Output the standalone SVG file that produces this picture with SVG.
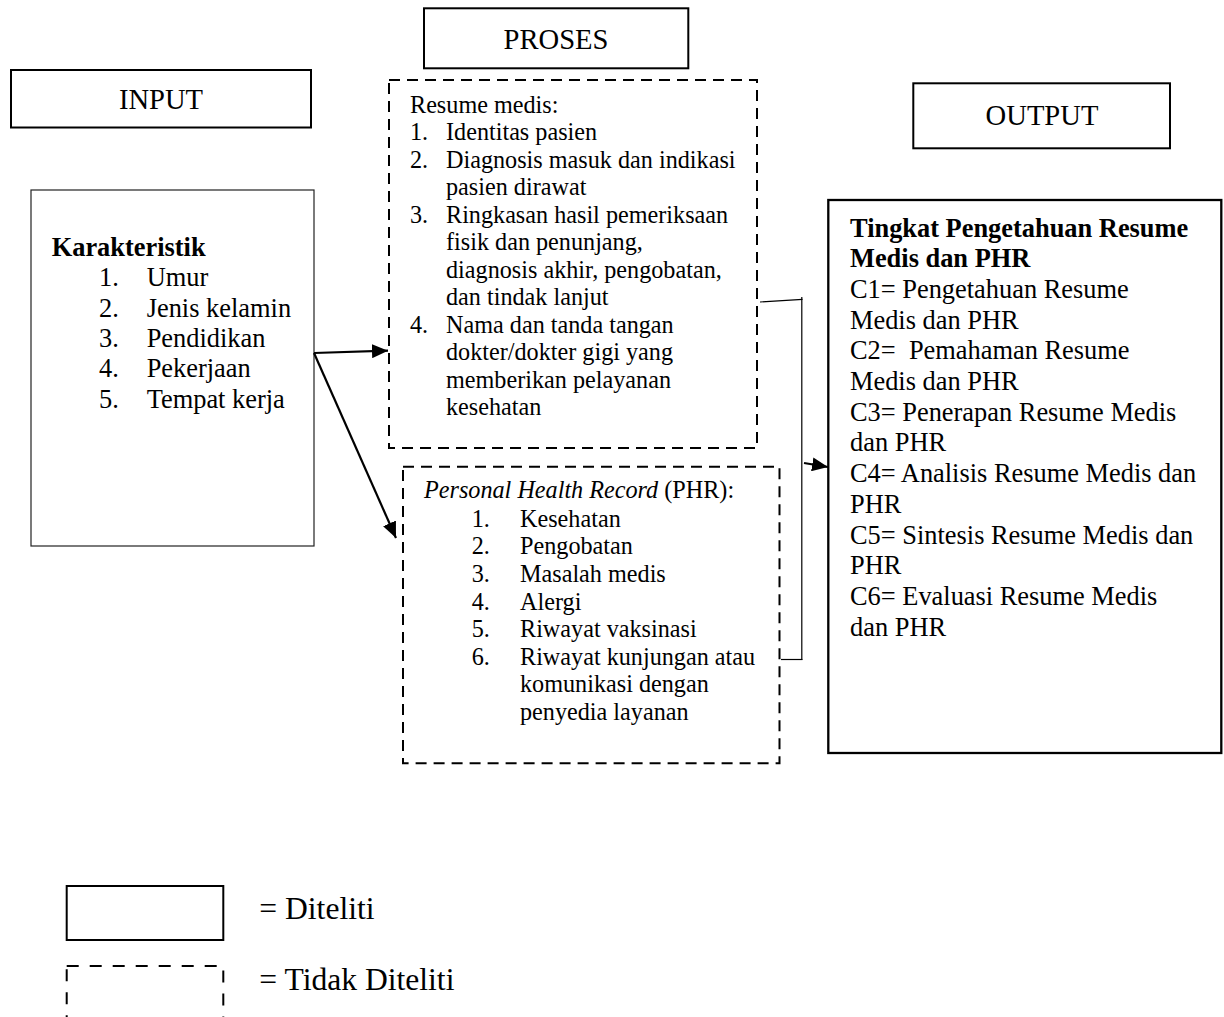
<svg xmlns="http://www.w3.org/2000/svg" width="1224" height="1017" viewBox="0 0 1224 1017">
<style>
text{font-family:"Liberation Serif","Times New Roman",serif;fill:#000}
.hdr{font-size:28.6px;text-anchor:middle}
.t11{font-size:24.2px}
.t12{font-size:26.4px}
.b{font-weight:bold}
.solid{fill:#fff;stroke:#000;stroke-width:2}
.dash{fill:none;stroke:#000;stroke-width:2;stroke-dasharray:11 7}
.conn{fill:none;stroke:#000;stroke-width:2.2}
.thin{fill:none;stroke:#000;stroke-width:1.2}
</style>
<defs>
<marker id="ah" markerUnits="userSpaceOnUse" markerWidth="16" markerHeight="14" refX="16" refY="7" orient="auto">
<path d="M0,0 L16,7 L0,14 z" fill="#000"/>
</marker>
</defs>
<rect width="1224" height="1017" fill="#fff"/>

<g id="input-header">
<rect class="solid" x="11" y="70" width="300" height="57.5"/>
<text class="hdr" x="161" y="109.3">INPUT</text>
</g>

<g id="proses-header">
<rect class="solid" x="424" y="8.3" width="264.3" height="60"/>
<text class="hdr" x="556" y="49.3">PROSES</text>
</g>

<g id="output-header">
<rect class="solid" x="913.3" y="83.3" width="256.7" height="65"/>
<text class="hdr" x="1042" y="125">OUTPUT</text>
</g>

<g id="karakteristik">
<rect x="31" y="190" width="283" height="356" fill="#fff" stroke="#222" stroke-width="1.2"/>
<text class="t12 b" x="51.7" y="256">Karakteristik</text>
<text class="t12" x="99" y="286">1.</text><text class="t12" x="146.7" y="286">Umur</text>
<text class="t12" x="99" y="316.5">2.</text><text class="t12" x="146.7" y="316.5">Jenis kelamin</text>
<text class="t12" x="99" y="347">3.</text><text class="t12" x="146.7" y="347">Pendidikan</text>
<text class="t12" x="99" y="377.4">4.</text><text class="t12" x="146.7" y="377.4">Pekerjaan</text>
<text class="t12" x="99" y="408">5.</text><text class="t12" x="146.7" y="408">Tempat kerja</text>
</g>

<g id="resume-medis">
<rect class="dash" x="389" y="80" width="368" height="368"/>
<text class="t11" x="410" y="112.7">Resume medis:</text>
<text class="t11" x="410" y="140.2">1.</text><text class="t11" x="446" y="140.2">Identitas pasien</text>
<text class="t11" x="410" y="167.7">2.</text><text class="t11" x="446" y="167.7">Diagnosis masuk dan indikasi</text>
<text class="t11" x="446" y="195.2">pasien dirawat</text>
<text class="t11" x="410" y="222.7">3.</text><text class="t11" x="446" y="222.7">Ringkasan hasil pemeriksaan</text>
<text class="t11" x="446" y="250.2">fisik dan penunjang,</text>
<text class="t11" x="446" y="277.7">diagnosis akhir, pengobatan,</text>
<text class="t11" x="446" y="305.2">dan tindak lanjut</text>
<text class="t11" x="410" y="332.7">4.</text><text class="t11" x="446" y="332.7">Nama dan tanda tangan</text>
<text class="t11" x="446" y="360.2">dokter/dokter gigi yang</text>
<text class="t11" x="446" y="387.7">memberikan pelayanan</text>
<text class="t11" x="446" y="415.2">kesehatan</text>
</g>

<g id="phr">
<rect class="dash" x="403" y="466.7" width="376.5" height="296.6"/>
<text class="t11" x="424" y="498.3"><tspan font-style="italic">Personal Health Record</tspan> (PHR):</text>
<text class="t11" x="471.7" y="526.7">1.</text><text class="t11" x="520" y="526.7">Kesehatan</text>
<text class="t11" x="471.7" y="554.3">2.</text><text class="t11" x="520" y="554.3">Pengobatan</text>
<text class="t11" x="471.7" y="581.9">3.</text><text class="t11" x="520" y="581.9">Masalah medis</text>
<text class="t11" x="471.7" y="609.5">4.</text><text class="t11" x="520" y="609.5">Alergi</text>
<text class="t11" x="471.7" y="637.1">5.</text><text class="t11" x="520" y="637.1">Riwayat vaksinasi</text>
<text class="t11" x="471.7" y="664.7">6.</text><text class="t11" x="520" y="664.7">Riwayat kunjungan atau</text>
<text class="t11" x="520" y="692.3">komunikasi dengan</text>
<text class="t11" x="520" y="719.9">penyedia layanan</text>
</g>

<g id="output">
<rect x="828.3" y="200" width="393" height="553" fill="#fff" stroke="#000" stroke-width="2.3"/>
<text class="t12 b" x="850" y="236.5">Tingkat Pengetahuan Resume</text>
<text class="t12 b" x="850" y="267.2">Medis dan PHR</text>
<text class="t12" x="850" y="297.9">C1= Pengetahuan Resume</text>
<text class="t12" x="850" y="328.6">Medis dan PHR</text>
<text class="t12" x="850" y="359.3" style="white-space:pre">C2=  Pemahaman Resume</text>
<text class="t12" x="850" y="390">Medis dan PHR</text>
<text class="t12" x="850" y="420.7">C3= Penerapan Resume Medis</text>
<text class="t12" x="850" y="451.4">dan PHR</text>
<text class="t12" x="850" y="482.1">C4= Analisis Resume Medis dan</text>
<text class="t12" x="850" y="512.8">PHR</text>
<text class="t12" x="850" y="543.5">C5= Sintesis Resume Medis dan</text>
<text class="t12" x="850" y="574.2">PHR</text>
<text class="t12" x="850" y="604.9">C6= Evaluasi Resume Medis</text>
<text class="t12" x="850" y="635.6">dan PHR</text>
</g>

<g id="connectors">
<line class="conn" x1="314" y1="353" x2="388" y2="350.7" marker-end="url(#ah)"/>
<line class="conn" x1="314" y1="353" x2="396" y2="538" marker-end="url(#ah)"/>
<line class="thin" x1="760" y1="302" x2="802.5" y2="299.3"/>
<line class="thin" x1="801.8" y1="297" x2="801.8" y2="660"/>
<line class="thin" x1="781" y1="659.5" x2="802.4" y2="659.5"/>
<line class="conn" x1="804" y1="463" x2="828" y2="467" marker-end="url(#ah)"/>
</g>

<g id="legend">
<rect class="solid" x="66.7" y="886" width="156.6" height="54"/>
<text x="259.3" y="919" style="font-size:31.6px">= Diteliti</text>
<rect x="66.7" y="966" width="156.6" height="58" fill="none" stroke="#000" stroke-width="2" stroke-dasharray="12 11"/>
<text x="259.3" y="990" style="font-size:31.6px">= Tidak Diteliti</text>
</g>
</svg>
